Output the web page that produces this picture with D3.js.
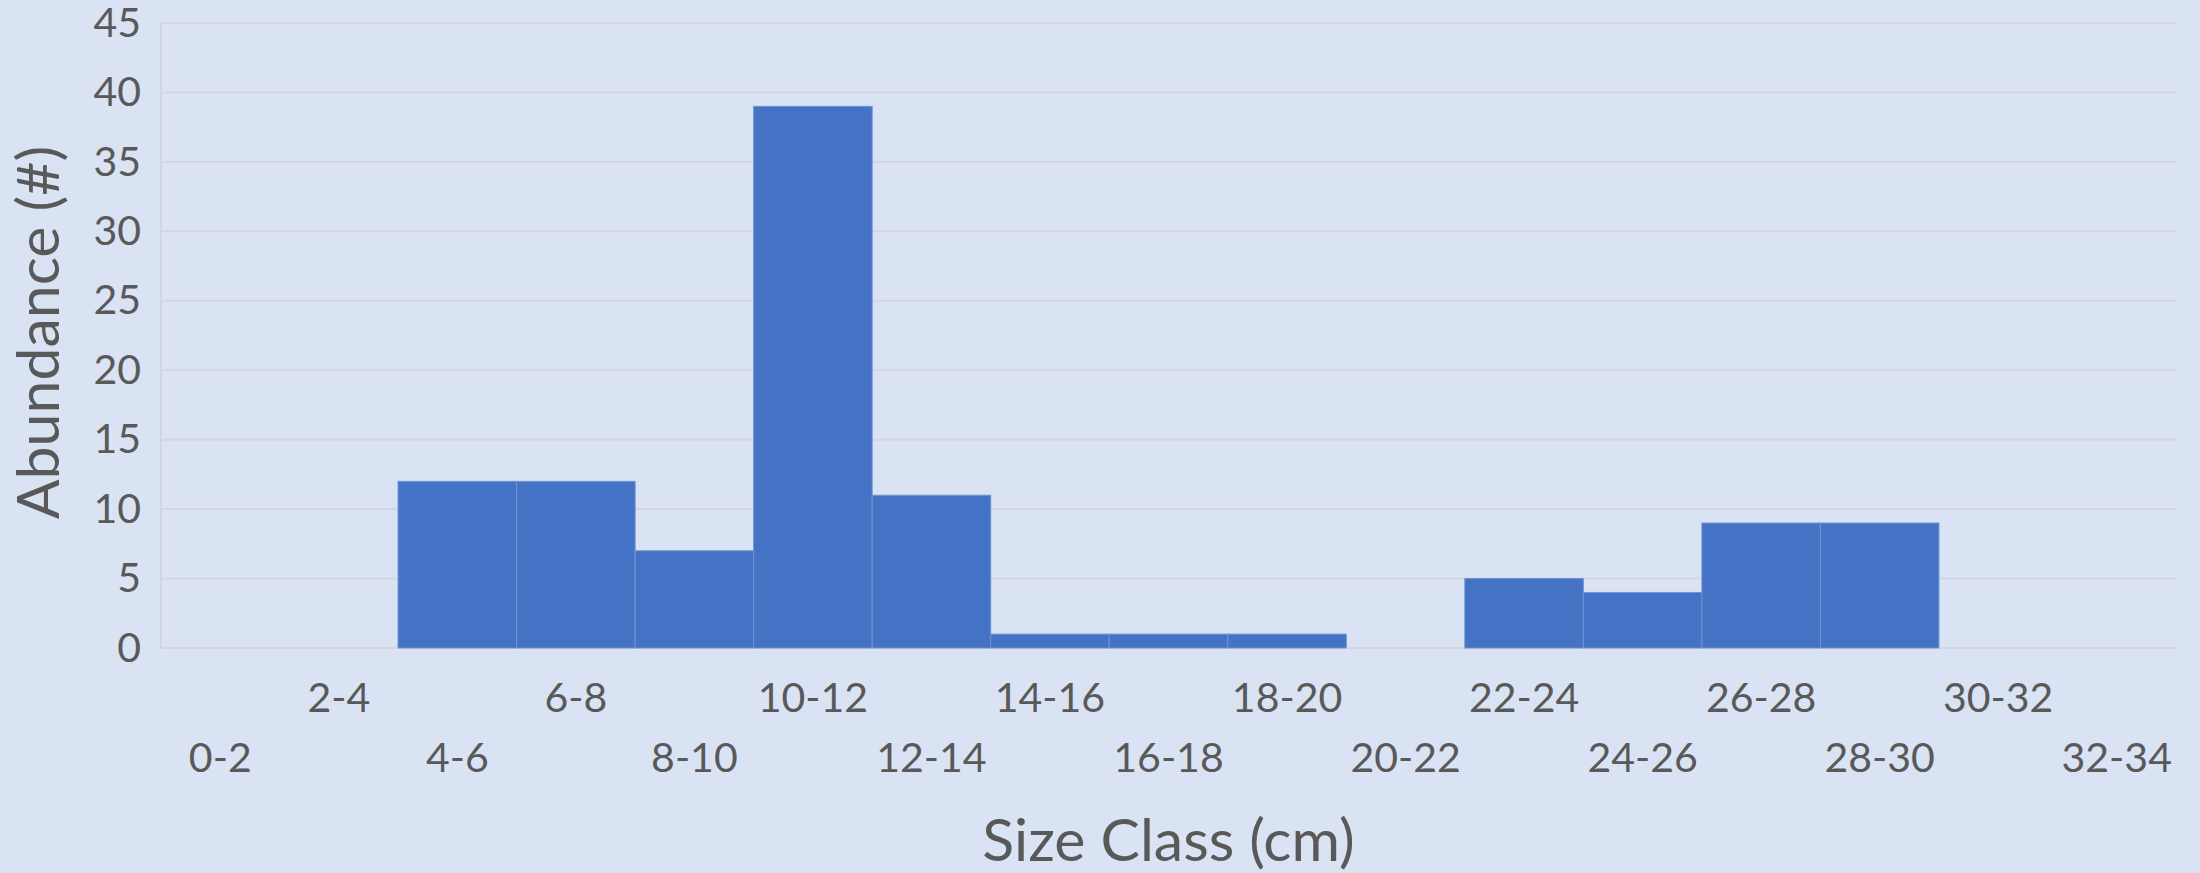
<!DOCTYPE html>
<html>
<head>
<meta charset="utf-8">
<script src="https://cdn.jsdelivr.net/npm/d3@7"></script>
<style>
  html, body { margin: 0; padding: 0; background: #dae3f3; }
  svg { display: block; }
  text { font-family: Lato, "Open Sans", sans-serif; fill: #595959; }
</style>
</head>
<body>
<svg id="chart" width="2200" height="873"></svg>
<script>
// Size classes (cm) and the number of individuals counted in each
const sizeClasses = ["0-2","2-4","4-6","6-8","8-10","10-12","12-14","14-16","16-18",
                     "18-20","20-22","22-24","24-26","26-28","28-30","30-32","32-34"];
const abundance = [0, 0, 12, 12, 7, 39, 11, 1, 1, 1, 0, 5, 4, 9, 9, 0, 0];
const yTicks = [0, 5, 10, 15, 20, 25, 30, 35, 40, 45];
const yTitle = "Abundance (#)";
const xTitle = "Size Class (cm)";

const svg = d3.select("#chart");
const W = 2200, H = 873;
const m = { left: 161, right: 24, top: 23, bottom: 225 };

svg.append("rect").attr("width", W).attr("height", H).attr("fill", "#dae3f3");

const x = d3.scaleBand().domain(sizeClasses).range([m.left, W - m.right]).padding(0);
const y = d3.scaleLinear().domain([0, 45]).range([H - m.bottom, m.top]);

// Horizontal gridlines
svg.append("g").selectAll("line").data(yTicks).join("line")
  .attr("x1", m.left).attr("x2", W - m.right)
  .attr("y1", d => y(d)).attr("y2", d => y(d))
  .attr("stroke", "#d3d6dc").attr("stroke-width", 2);

// Left axis line
svg.append("line")
  .attr("x1", m.left).attr("x2", m.left)
  .attr("y1", y(45)).attr("y2", y(0))
  .attr("stroke", "#d3d6dc").attr("stroke-width", 2);

// Bars (adjacent, histogram style)
svg.append("g").selectAll("rect")
  .data(sizeClasses.map((c, i) => ({ c, v: abundance[i] })).filter(d => d.v > 0))
  .join("rect")
  .attr("x", d => x(d.c))
  .attr("y", d => y(d.v))
  .attr("width", x.bandwidth())
  .attr("height", d => y(0) - y(d.v))
  .attr("fill", "#4472c4")
  .attr("stroke", "#6f93d3")
  .attr("stroke-width", 1);

// Y axis tick labels
const yAxis = d3.axisLeft(y).tickValues(yTicks).tickSize(0).tickPadding(20);
const gy = svg.append("g").attr("transform", `translate(${m.left},0)`).call(yAxis);
gy.select(".domain").remove();
gy.selectAll("text").attr("font-size", 41).attr("fill", "#595959")
  .style("font-family", "Lato, 'Open Sans', sans-serif");

// X axis labels, staggered on two rows
const xAxis = d3.axisBottom(x).tickSize(0).tickPadding(0);
const gx = svg.append("g").attr("transform", `translate(0,${y(0)})`).call(xAxis);
gx.select(".domain").remove();
gx.selectAll("text")
  .attr("font-size", 41).attr("fill", "#595959")
  .style("font-family", "Lato, 'Open Sans', sans-serif")
  .attr("dy", null)
  .attr("y", (d, i) => (i % 2 === 1 ? 64 : 124));

// Axis titles
svg.append("text")
  .attr("transform", `translate(59,${(y(0) + y(45)) / 2 - 3}) rotate(-90)`)
  .attr("text-anchor", "middle")
  .attr("font-size", 59)
  .text(yTitle);

svg.append("text")
  .attr("x", (m.left + W - m.right) / 2)
  .attr("y", 861)
  .attr("text-anchor", "middle")
  .attr("font-size", 59)
  .text(xTitle);
</script>
</body>
</html>
